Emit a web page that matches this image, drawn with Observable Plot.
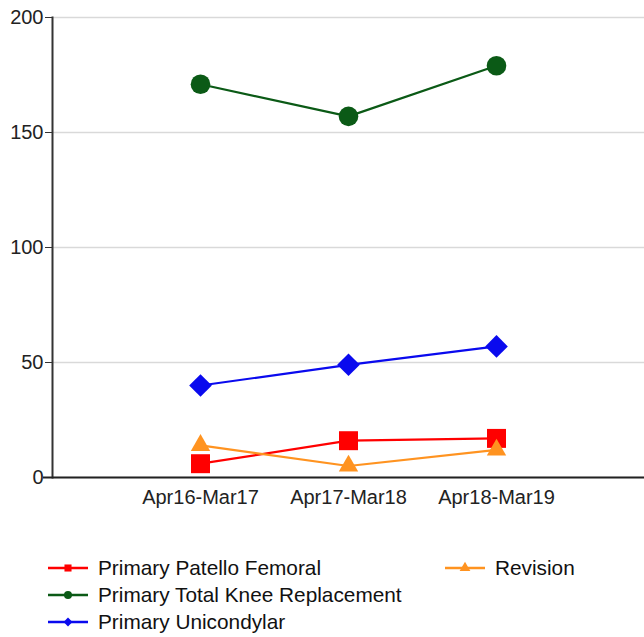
<!DOCTYPE html>
<html>
<head>
<meta charset="utf-8">
<script src="https://cdn.jsdelivr.net/npm/d3@7"></script>
<script src="https://cdn.jsdelivr.net/npm/@observablehq/plot@0.6"></script>
<style>
  body { margin: 0; background: #fff; font-family: "Liberation Sans", Arial, sans-serif; }
  #chart svg { display: block; }
  #legend { position: relative; height: 90px; margin-top: 34px; }
  .item { position: absolute; display: flex; align-items: center; height: 27px; font-size: 20.8px; color: #111; }
  .item svg { margin-right: 10px; }
</style>
</head>
<body>
<div id="chart"></div>
<div id="legend"></div>
<script>
const categories = ["Apr16-Mar17", "Apr17-Mar18", "Apr18-Mar19"];
const seriesNames = ["Primary Patello Femoral", "Primary Total Knee Replacement", "Primary Unicondylar", "Revision"];
const patelloFemoral = [6, 16, 17];
const totalKnee = [171, 157, 179];
const unicondylar = [40, 49, 57];
const revision = [14, 5, 12];
const seriesColors = ["#ff0000", "#0b5a16", "#0a0aee", "#ff9320"];
const seriesSymbols = ["square", "circle", "diamond2", "triangle"];
const seriesSizes = [10.7, 9.8, 10.2, 7.2];
const yTicks = [0, 50, 100, 150, 200];

const allValues = [patelloFemoral, totalKnee, unicondylar, revision];
const rows = [];
seriesNames.forEach((s, i) => {
  categories.forEach((c, j) => rows.push({series: s, period: c, value: allValues[i][j], idx: i}));
});

const chart = Plot.plot({
  width: 644,
  height: 520,
  marginLeft: 52,
  marginRight: 0,
  marginTop: 17,
  marginBottom: 43,
  style: {fontFamily: "'Liberation Sans', Arial, sans-serif", fontSize: "20px", color: "#222", background: "#fff"},
  x: {type: "point", domain: categories, padding: 1, label: null},
  y: {domain: [0, 200], label: null},
  marks: [
    Plot.gridY(yTicks, {stroke: "#d9d9d9", strokeOpacity: 1, strokeWidth: 1.5}),
    Plot.axisY(yTicks, {tickSize: 7, tickPadding: 2, label: null, stroke: "#333"}),
    Plot.axisX({tickSize: 0, tickPadding: 12, label: null}),
    Plot.frame({anchor: "left", stroke: "#333", strokeWidth: 2}),
    Plot.ruleY([0], {stroke: "#222", strokeWidth: 2, insetLeft: -9}),
    ...seriesNames.map((s, i) => Plot.line(rows.filter(d => d.series === s), {
      x: "period", y: "value", stroke: seriesColors[i], strokeWidth: 2.2
    })),
    ...seriesNames.map((s, i) => Plot.dot(rows.filter(d => d.series === s), {
      x: "period", y: "value", fill: seriesColors[i], stroke: "none",
      symbol: seriesSymbols[i], r: seriesSizes[i]
    }))
  ]
});
document.getElementById("chart").appendChild(chart);

// Legend
const legend = document.getElementById("legend");
const positions = [
  {left: 48, top: 0}, {left: 48, top: 27}, {left: 48, top: 54}, {left: 445, top: 0}
];
const symbolMap = {square: d3.symbolSquare, circle: d3.symbolCircle, diamond2: d3.symbolDiamond2, triangle: d3.symbolTriangle};
seriesNames.forEach((s, i) => {
  const item = document.createElement("div");
  item.className = "item";
  item.style.left = positions[i].left + "px";
  item.style.top = positions[i].top + "px";
  const ns = "http://www.w3.org/2000/svg";
  const sw = document.createElementNS(ns, "svg");
  sw.setAttribute("width", 40); sw.setAttribute("height", 16);
  const ln = document.createElementNS(ns, "line");
  ln.setAttribute("x1", 0); ln.setAttribute("x2", 40); ln.setAttribute("y1", 8); ln.setAttribute("y2", 8);
  ln.setAttribute("stroke", seriesColors[i]); ln.setAttribute("stroke-width", 2.5);
  sw.appendChild(ln);
  const p = document.createElementNS(ns, "path");
  p.setAttribute("d", d3.symbol(symbolMap[seriesSymbols[i]], 50)());
  p.setAttribute("transform", "translate(20,8)");
  p.setAttribute("fill", seriesColors[i]);
  sw.appendChild(p);
  item.appendChild(sw);
  const t = document.createElement("span");
  t.textContent = s;
  item.appendChild(t);
  legend.appendChild(item);
});
</script>
</body>
</html>
